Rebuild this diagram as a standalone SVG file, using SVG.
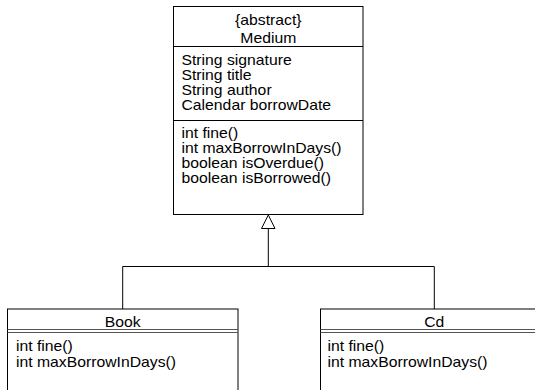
<svg xmlns="http://www.w3.org/2000/svg" width="535" height="390" viewBox="0 0 535 390">
  <style>
    .box { fill: #ffffff; stroke: #000000; stroke-width: 1; }
    .sep { stroke: #000000; stroke-width: 1; fill: none; }
    .sep2 { stroke: #555555; stroke-width: 1; fill: none; }
    .edge { stroke: #000000; stroke-width: 1; fill: none; }
    .head { fill: #ffffff; stroke: #000000; stroke-width: 1; }
    text { font-family: "Liberation Sans", Arial, Helvetica, sans-serif; font-size: 14px; fill: #000000; }
    .c { text-anchor: middle; }
  </style>
  <rect width="535" height="390" fill="#ffffff"/>

  <!-- generalization connectors -->
  <g id="connectors">
    <polyline class="edge" points="268.3,228.5 268.3,266.5"/>
    <polyline class="edge" points="122.7,309 122.7,266.5 434.3,266.5 434.3,309"/>
    <polygon class="head" points="268.3,215 261.5,228.5 275,228.5"/>
  </g>

  <!-- abstract class Medium -->
  <g id="medium">
    <rect class="box" x="173.5" y="6.5" width="189.5" height="208"/>
    <line class="sep" x1="173.5" y1="46.5" x2="363" y2="46.5"/>
    <line class="sep" x1="173.5" y1="120.5" x2="363" y2="120.5"/>
    <text class="c" transform="matrix(1.125 0 0 1 268.3 25)">{abstract}</text>
    <text class="c" transform="matrix(1.125 0 0 1 268.3 42.5)">Medium</text>
    <text transform="matrix(1.125 0 0 1 181.5 64.5)">String signature</text>
    <text transform="matrix(1.125 0 0 1 181.5 79.5)">String title</text>
    <text transform="matrix(1.125 0 0 1 181.5 94.5)">String author</text>
    <text transform="matrix(1.125 0 0 1 181.5 109.5)">Calendar borrowDate</text>
    <text transform="matrix(1.125 0 0 1 181.5 137.5)">int fine()</text>
    <text transform="matrix(1.125 0 0 1 181.5 152.5)">int maxBorrowInDays()</text>
    <text transform="matrix(1.125 0 0 1 181.5 167.5)">boolean isOverdue()</text>
    <text transform="matrix(1.125 0 0 1 181.5 182.5)">boolean isBorrowed()</text>
  </g>

  <!-- class Book -->
  <g id="book">
    <rect class="box" x="7.5" y="309" width="230.5" height="100"/>
    <line class="sep2" x1="7.5" y1="329.5" x2="238" y2="329.5"/>
    <line class="sep2" x1="7.5" y1="332.5" x2="238" y2="332.5"/>
    <text class="c" transform="matrix(1.125 0 0 1 122.7 327)">Book</text>
    <text transform="matrix(1.125 0 0 1 16 351)">int fine()</text>
    <text transform="matrix(1.125 0 0 1 16 366.5)">int maxBorrowInDays()</text>
  </g>

  <!-- class Cd -->
  <g id="cd">
    <rect class="box" x="320.5" y="309" width="228" height="100"/>
    <line class="sep2" x1="320.5" y1="329.5" x2="548.5" y2="329.5"/>
    <line class="sep2" x1="320.5" y1="332.5" x2="548.5" y2="332.5"/>
    <text class="c" transform="matrix(1.125 0 0 1 434.3 327)">Cd</text>
    <text transform="matrix(1.125 0 0 1 327.5 351)">int fine()</text>
    <text transform="matrix(1.125 0 0 1 327.5 366.5)">int maxBorrowInDays()</text>
  </g>
</svg>
